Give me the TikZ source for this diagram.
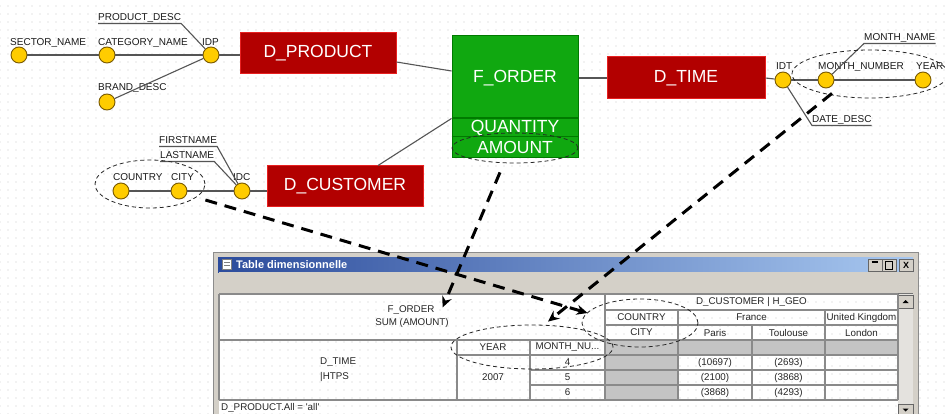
\documentclass[tikz,border=0pt]{standalone}
\usepackage{fontspec}
\setmainfont{Liberation Sans}
\usetikzlibrary{patterns,shapes.geometric,arrows.meta}
\pgfdeclarepatternformonly{griddots}{\pgfqpoint{-1pt}{-1pt}}{\pgfqpoint{1pt}{1pt}}{\pgfqpoint{8pt}{8pt}}{\pgfpathcircle{\pgfqpoint{0pt}{0pt}}{0.55pt}\pgfusepath{fill}}
\definecolor{dimred}{HTML}{B20000}
\definecolor{dimredb}{HTML}{E82020}
\definecolor{factgreen}{HTML}{10A810}
\definecolor{factgreenb}{HTML}{007A00}
\definecolor{attryellow}{HTML}{FFCC00}
\definecolor{attredge}{HTML}{7A5A00}
\definecolor{linegray}{HTML}{555555}
\definecolor{wingray}{HTML}{D4D0C8}
\definecolor{cellgray}{HTML}{C4C4C4}
\definecolor{scrollgray}{HTML}{E4E2DE}
\definecolor{gridgray}{HTML}{8A8A8A}
\definecolor{titleL}{HTML}{2C4C9C}
\definecolor{titleR}{HTML}{A8C8F0}
\definecolor{dotgray}{HTML}{CACACA}
\definecolor{labelblack}{HTML}{1A1A1A}
\begin{document}
\begin{tikzpicture}[x=1pt,y=-1pt,
  attr/.style={circle,fill=attryellow,draw=attredge,line width=0.9pt,minimum size=16pt,inner sep=0pt},
  lbl/.style={font=\fontsize{10}{12}\selectfont,inner sep=0pt,anchor=base west,text=labelblack},
  dimbox/.style={rectangle,fill=dimred,draw=dimredb,line width=1pt,text=white,font=\fontsize{17.5}{20}\selectfont,minimum width=156pt,minimum height=41pt,inner sep=0pt},
  facttext/.style={text=white,font=\fontsize{17.5}{20}\selectfont,inner sep=0pt},
  conn/.style={draw=linegray,line width=1.1pt},
  ell/.style={ellipse,draw=black!85,line width=0.8pt,dash pattern=on 4pt off 3pt,inner sep=0pt},
  bigarrow/.style={draw=black,line width=3pt,dash pattern=on 12pt off 8pt,-{Stealth[length=11pt,width=10pt]}},
  cell/.style={font=\fontsize{9.8}{11}\selectfont,inner sep=0pt,text=black!85},
  gridline/.style={draw=gridgray,line width=1.2pt},
  winbtn/.style={rectangle,fill=wingray,draw=black!60,line width=0.6pt,minimum width=14pt,minimum height=12pt,inner sep=0pt,font=\bfseries\fontsize{9}{10}\selectfont}
]
\useasboundingbox (0,0) rectangle (945,414);
\fill[white] (0,0) rectangle (945,414);
\fill[pattern=griddots,pattern color=dotgray] (0,0) rectangle (945,414);

% ---------- D_PRODUCT ----------
\node[attr] (sector) at (19,55) {};
\node[attr] (category) at (107,55) {};
\node[attr] (idp) at (211,55) {};
\node[attr] (brand) at (107,102) {};
\node[lbl] (lsector) at (10,46) {SECTOR\_NAME};
\node[lbl] (lcategory) at (98,46) {CATEGORY\_NAME};
\node[lbl] (lidp) at (202,46) {IDP};
\node[lbl] (pdesc) at (98,21) {PRODUCT\_DESC};
\node[lbl] (lbrand) at (98,91) {BRAND\_DESC};
\node[dimbox] (dprod) at (318,53.5) {D\_PRODUCT};
\draw[conn] (sector) -- (category);
\draw[conn] (category) -- (idp);
\draw[conn] (idp) -- (idp -| dprod.west);
\draw[conn] (brand) -- (idp);
\draw[conn] ([yshift=-2.5pt]pdesc.base west) -- ([yshift=-2.5pt]pdesc.base east) -- (idp);

% ---------- F_ORDER ----------
\node[rectangle,fill=factgreen,draw=factgreenb,line width=1pt,minimum width=126pt,minimum height=122pt,inner sep=0pt] (forder) at (515,97) {};
\draw[factgreenb,line width=1.2pt] (forder.west |- 0,118) -- (forder.east |- 0,118);
\draw[factgreenb,line width=1pt] (forder.west |- 0,137) -- (forder.east |- 0,137);
\node[facttext] (lforder) at (515,78) {F\_ORDER};
\node[facttext] (quantity) at (515,128) {QUANTITY};
\node[facttext] (amount) at (515,147.5) {AMOUNT};
\draw[conn] ([yshift=-8.5pt]dprod.east) -- ([yshift=26pt]forder.west);

% ---------- D_TIME ----------
\node[dimbox,minimum width=158pt,minimum height=42pt] (dtime) at (686,78) {D\_TIME};
\draw[conn] (forder.east |- dtime) -- (dtime.west);
\node[attr] (idt) at (783,80) {};
\node[attr] (mnum) at (826,80) {};
\node[attr] (year) at (923,80) {};
\node[lbl] (lidt) at (776,70) {IDT};
\node[lbl] (lmnum) at (818,70) {MONTH\_NUMBER};
\node[lbl] (lyear) at (916,70) {YEAR};
\node[lbl] (mname) at (864,41) {MONTH\_NAME};
\node[lbl] (ddesc) at (812,123) {DATE\_DESC};
\draw[conn] (dtime.east) -- (idt);
\draw[conn] (idt) -- (mnum);
\draw[conn] (mnum) -- (year);
\draw[conn] ([yshift=-2.5pt]mname.base east) -- ([yshift=-2.5pt]mname.base west) -- (mnum);
\draw[conn] ([yshift=-2.5pt]ddesc.base east) -- ([yshift=-2.5pt]ddesc.base west) -- (idt);

% ---------- D_CUSTOMER ----------
\node[dimbox] (dcust) at (345,186.5) {D\_CUSTOMER};
\node[attr] (country) at (121,191) {};
\node[attr] (city) at (179,191) {};
\node[attr] (idc) at (242,191) {};
\node[lbl] (lcountry) at (113,181) {COUNTRY};
\node[lbl] (lcity) at (171,181) {CITY};
\node[lbl] (lidc) at (233,181) {IDC};
\node[lbl] (first) at (159,144) {FIRSTNAME};
\node[lbl] (last) at (160,159) {LASTNAME};
\draw[conn] (country) -- (city);
\draw[conn] (city) -- (idc);
\draw[conn] (idc) -- (idc -| dcust.west);
\draw[conn] ([yshift=-2.5pt]first.base west) -- ([yshift=-2.5pt]first.base east) -- (idc);
\draw[conn] ([yshift=-2.5pt]last.base west) -- ([yshift=-2.5pt]last.base east) -- (idc);
\draw[conn] ([yshift=40pt]forder.south west) -- ([xshift=33pt]dcust.north);

% ---------- selection ellipses (model) ----------
\node[ell,minimum width=126pt,minimum height=30pt] (amountell) at (515,148) {};
\node[ell,minimum width=110pt,minimum height=48pt] (cityell) at (150,184) {};
\node[ell,minimum width=156pt,minimum height=48pt] (monthell) at (870,74) {};

% ---------- window ----------
\fill[wingray] (213,252) rectangle (918,257);
\fill[wingray] (213,252) rectangle (219,414);
\fill[wingray] (913,252) rectangle (918,414);
\draw[black!45,line width=0.8pt] (213,414) -- (213,252) -- (918,252) -- (918,414);
\shade[left color=titleL,right color=titleR] (218,257) rectangle (913,272);
\node[rectangle,fill=white,draw=black!50,line width=0.5pt,minimum width=9pt,minimum height=10pt,inner sep=0pt] (wicon) at (227,264.5) {};
\draw[black!50,line width=0.6pt] ([xshift=2pt,yshift=-3pt]wicon.north west) -- ([xshift=-2pt,yshift=-3pt]wicon.north east);
\draw[black!50,line width=0.6pt] ([xshift=2pt,yshift=-6pt]wicon.north west) -- ([xshift=-2pt,yshift=-6pt]wicon.north east);
\node[font=\bfseries\fontsize{11}{12}\selectfont,text=white,anchor=west,inner sep=0pt] (wtitle) at (236,265) {Table dimensionnelle};
\node[winbtn] (bmin) at (875,265) {};
\node[winbtn] (bmax) at (889,265) {};
\node[winbtn] (bclose) at (906,265) {X};
\draw[black,line width=1.4pt] ([xshift=-3.5pt,yshift=3pt]bmin.center) -- ([xshift=2.5pt,yshift=3pt]bmin.center);
\draw[black,line width=0.9pt] ([xshift=-3.5pt,yshift=-4pt]bmax.center) rectangle ([xshift=3.5pt,yshift=3.5pt]bmax.center);
\draw[black,line width=1.4pt] ([xshift=-3.5pt,yshift=3.5pt]bmax.center) -- ([xshift=3.5pt,yshift=3.5pt]bmax.center);
\fill[wingray] (219,272) rectangle (913,294);
\draw[black!55,line width=0.8pt] (219,293.5) -- (913,293.5);
% scrollbar
\fill[scrollgray] (898,294) rectangle (913,414);
\node[winbtn,minimum width=15pt,minimum height=13pt] (sup) at (905.5,301.5) {};
\fill[black] ([xshift=-3pt,yshift=-1.5pt]sup.center) -- ([xshift=3pt,yshift=-1.5pt]sup.center) -- ([yshift=1.5pt]sup.center) -- cycle;
\node[winbtn,minimum width=15pt,minimum height=12pt] (sdown) at (905.5,410) {};
\fill[black] ([xshift=-3pt,yshift=1.5pt]sdown.center) -- ([xshift=3pt,yshift=1.5pt]sdown.center) -- ([yshift=-1.5pt]sdown.center) -- cycle;

% ---------- table ----------
\fill[cellgray] (605,340) rectangle (898,355);
\fill[cellgray] (605,355) rectangle (678,400);
\draw[gridline] (219,294) -- (898,294);
\draw[gridline] (605,310) -- (898,310);
\draw[gridline] (605,325) -- (898,325);
\draw[gridline] (219,340) -- (898,340);
\draw[gridline] (457,355) -- (898,355);
\draw[gridline] (530,370) -- (898,370);
\draw[gridline] (530,385) -- (898,385);
\draw[gridline] (219,400) -- (898,400);
\draw[gridline] (219,294) -- (219,400);
\draw[gridline] (457,340) -- (457,400);
\draw[gridline] (530,340) -- (530,400);
\draw[gridline] (605,294) -- (605,400);
\draw[gridline] (678,310) -- (678,400);
\draw[gridline] (752,325) -- (752,400);
\draw[gridline] (825,310) -- (825,400);
\draw[gridline] (898,294) -- (898,400);

\node[cell] (tforder) at (411,310) {F\_ORDER};
\node[cell] (tsum) at (412,323) {SUM (AMOUNT)};
\node[cell,anchor=west] (tdtime) at (320,362.5) {D\_TIME};
\node[cell,anchor=west] (thtps) at (320,376.5) {|HTPS};
\node[cell] (tyear) at (493,347.5) {YEAR};
\node[cell] (tmonth) at (567.5,347.5) {MONTH\_NU...};
\node[cell] (t2007) at (493,377.5) {2007};
\node[cell] (tm4) at (567.5,362.5) {4};
\node[cell] (tm5) at (567.5,377.5) {5};
\node[cell] (tm6) at (567.5,392.5) {6};
\node[cell] (tgeo) at (751.5,302) {D\_CUSTOMER | H\_GEO};
\node[cell] (tcountry) at (641.5,317.5) {COUNTRY};
\node[cell] (tfrance) at (751.5,317.5) {France};
\node[cell] (tuk) at (861.5,317.5) {United Kingdom};
\node[cell] (tcity) at (641.5,332.5) {CITY};
\node[cell] (tparis) at (715,332.5) {Paris};
\node[cell] (ttoulouse) at (788.5,332.5) {Toulouse};
\node[cell] (tlondon) at (861.5,332.5) {London};
\node[cell] (v11) at (715,362.5) {(10697)};
\node[cell] (v12) at (788.5,362.5) {(2693)};
\node[cell] (v21) at (715,377.5) {(2100)};
\node[cell] (v22) at (788.5,377.5) {(3868)};
\node[cell] (v31) at (715,392.5) {(3868)};
\node[cell] (v32) at (788.5,392.5) {(4293)};
\node[cell,anchor=west] (tfilter) at (221,407.5) {D\_PRODUCT.All = \textquotesingle all\textquotesingle};

% ---------- selection ellipses (table) ----------
\node[ell,minimum width=162pt,minimum height=44pt] (yearell) at (532,347) {};
\node[ell,minimum width=116pt,minimum height=48pt] (countryell) at (640,323) {};

% ---------- mapping arrows ----------
\draw[bigarrow] ([xshift=-15pt,yshift=-9pt]amountell.south) -- ([xshift=8pt,yshift=-2pt]tforder.north east);
\draw[bigarrow] ([yshift=-16pt]cityell.east) -- ([xshift=6pt,yshift=10pt]countryell.west);
\draw[bigarrow] ([xshift=-38pt,yshift=5pt]monthell.south) -- ([xshift=16pt,yshift=3pt]yearell.north);
\end{tikzpicture}
\end{document}
